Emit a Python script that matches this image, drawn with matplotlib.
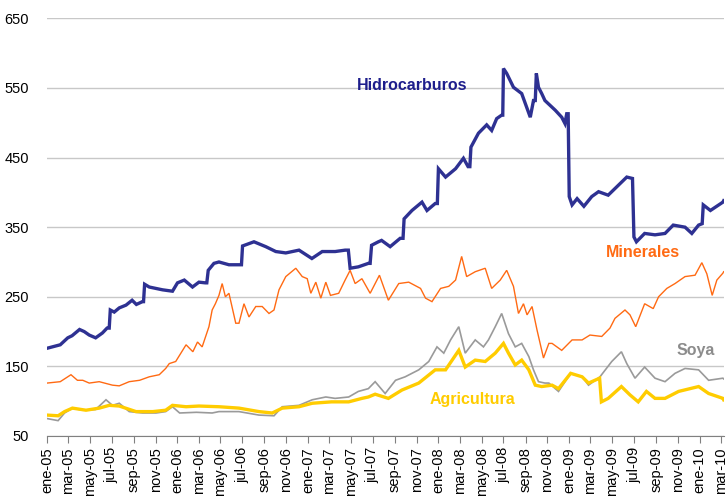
import pandas as pd
import numpy as np
import matplotlib.pyplot as plt
import matplotlib.dates as mdates
from matplotlib.ticker import FuncFormatter

plt.rcParams['font.family'] = ['Liberation Sans', 'DejaVu Sans']

# ==== datos (índices, valores aproximados) ====
hidro_fechas = [
    "2005-01-01", "2005-02-07", "2005-02-28", "2005-03-12", "2005-04-02", "2005-04-15", "2005-04-29",
    "2005-05-17", "2005-06-05", "2005-06-18", "2005-06-24", "2005-06-27", "2005-07-08", "2005-07-22",
    "2005-08-10", "2005-08-27", "2005-09-08", "2005-09-25", "2005-09-28", "2005-10-01", "2005-10-14",
    "2005-11-20", "2005-12-18", "2006-01-01", "2006-01-20", "2006-02-12", "2006-03-02", "2006-03-20",
    "2006-03-24", "2006-03-28", "2006-04-13", "2006-04-27", "2006-05-25", "2006-06-22", "2006-06-29",
    "2006-07-02", "2006-08-03", "2006-09-05", "2006-10-03", "2006-10-31", "2006-12-07", "2007-01-12",
    "2007-02-10", "2007-03-18", "2007-04-15", "2007-04-24", "2007-04-29", "2007-05-22", "2007-06-19",
    "2007-06-24", "2007-06-28", "2007-07-17", "2007-07-26", "2007-08-19", "2007-09-16", "2007-09-24",
    "2007-09-27", "2007-10-19", "2007-11-16", "2007-11-30", "2007-12-23", "2007-12-29", "2008-01-01",
    "2008-01-21", "2008-02-18", "2008-03-11", "2008-03-24", "2008-03-29", "2008-04-01", "2008-04-22",
    "2008-05-15", "2008-05-29", "2008-06-12", "2008-06-26", "2008-06-29", "2008-07-01", "2008-07-10",
    "2008-07-29", "2008-08-21", "2008-09-14", "2008-09-23", "2008-09-28", "2008-10-01", "2008-10-07",
    "2008-10-16", "2008-10-25", "2008-11-23", "2008-12-11", "2008-12-20", "2008-12-25", "2008-12-29",
    "2009-01-01", "2009-01-09", "2009-01-23", "2009-02-11", "2009-03-05", "2009-03-24", "2009-04-20",
    "2009-05-18", "2009-06-11", "2009-06-27", "2009-07-01", "2009-07-08", "2009-07-31", "2009-08-29",
    "2009-09-26", "2009-10-19", "2009-11-21", "2009-12-10", "2009-12-29", "2010-01-08", "2010-01-11",
    "2010-01-31", "2010-03-07", "2010-03-09"]
hidro_valores = [
    176, 181, 191, 194, 203, 200, 195,
    191, 198, 205, 205, 231, 228, 234,
    238, 245, 239, 243, 243, 268, 264,
    260, 258, 270, 274, 264, 271, 270,
    270, 288, 298, 300, 296, 296, 296,
    323, 329, 322, 315, 313, 317, 305,
    315, 315, 317, 317, 291, 293, 298,
    298, 324, 329, 331, 322, 334, 334,
    362, 374, 386, 374, 384, 384, 434,
    422, 434, 449, 437, 437, 465, 485,
    497, 489, 506, 511, 511, 578, 571,
    551, 542, 508, 532, 532, 571, 551,
    542, 532, 518, 508, 499, 513, 513,
    394, 382, 391, 380, 394, 401, 396,
    410, 422, 420, 336, 329, 341, 339,
    341, 353, 350, 341, 353, 355, 382,
    374, 386, 388]

min_fechas = [
    "2005-01-01", "2005-02-07", "2005-03-09", "2005-03-27", "2005-04-11", "2005-04-29", "2005-05-27",
    "2005-07-03", "2005-07-22", "2005-08-19", "2005-09-17", "2005-10-14", "2005-11-11", "2005-11-29",
    "2005-12-09", "2005-12-27", "2006-01-25", "2006-02-13", "2006-02-26", "2006-03-11", "2006-03-30",
    "2006-04-08", "2006-04-17", "2006-04-27", "2006-05-06", "2006-05-15", "2006-05-25", "2006-06-13",
    "2006-06-22", "2006-07-06", "2006-07-20", "2006-08-08", "2006-08-26", "2006-09-14", "2006-09-28",
    "2006-10-12", "2006-10-31", "2006-11-28", "2006-12-16", "2006-12-30", "2007-01-09", "2007-01-23",
    "2007-02-06", "2007-02-20", "2007-03-05", "2007-03-28", "2007-04-15", "2007-04-29", "2007-05-13",
    "2007-06-01", "2007-06-24", "2007-07-20", "2007-08-14", "2007-09-12", "2007-10-10", "2007-11-12",
    "2007-11-26", "2007-12-14", "2008-01-07", "2008-01-30", "2008-02-18", "2008-03-06", "2008-03-20",
    "2008-04-13", "2008-05-11", "2008-05-29", "2008-06-22", "2008-07-10", "2008-07-29", "2008-08-12",
    "2008-08-26", "2008-09-05", "2008-09-19", "2008-10-03", "2008-10-21", "2008-11-05", "2008-11-14",
    "2008-12-11", "2009-01-09", "2009-02-06", "2009-02-28", "2009-04-02", "2009-04-25", "2009-05-09",
    "2009-06-06", "2009-06-20", "2009-07-06", "2009-07-31", "2009-08-24", "2009-09-08", "2009-10-01",
    "2009-10-24", "2009-11-21", "2009-12-19", "2010-01-07", "2010-01-21", "2010-02-05", "2010-02-18",
    "2010-03-07", "2010-03-09"]
min_valores = [
    126, 128, 138, 130, 130, 126, 128,
    123, 122, 128, 130, 135, 138, 147,
    154, 157, 181, 171, 185, 178, 207,
    231, 240, 252, 269, 250, 255, 212,
    212, 240, 221, 236, 236, 226, 231,
    260, 279, 291, 279, 276, 255, 271,
    248, 271, 252, 255, 274, 288, 269,
    276, 255, 281, 245, 269, 271, 262,
    248, 243, 262, 265, 274, 308, 279,
    286, 291, 262, 274, 288, 265, 226,
    240, 224, 236, 202, 162, 183, 183,
    173, 188, 188, 195, 193, 205, 219,
    231, 224, 207, 240, 233, 250, 262,
    269, 279, 281, 299, 283, 252, 274,
    284, 286]

soya_fechas = [
    "2005-01-01", "2005-02-01", "2005-02-19", "2005-03-13", "2005-04-11", "2005-05-17", "2005-06-15",
    "2005-07-03", "2005-07-22", "2005-08-19", "2005-09-25", "2005-11-02", "2005-11-29", "2005-12-18",
    "2006-01-07", "2006-02-23", "2006-04-08", "2006-04-27", "2006-06-22", "2006-08-17", "2006-09-28",
    "2006-10-21", "2006-12-07", "2007-01-13", "2007-02-20", "2007-03-18", "2007-04-25", "2007-05-22",
    "2007-06-19", "2007-07-08", "2007-08-05", "2007-09-03", "2007-09-30", "2007-11-07", "2007-12-05",
    "2007-12-28", "2008-01-16", "2008-02-04", "2008-02-27", "2008-03-16", "2008-04-13", "2008-05-06",
    "2008-05-20", "2008-06-08", "2008-06-26", "2008-07-15", "2008-08-03", "2008-08-21", "2008-09-10",
    "2008-09-23", "2008-10-07", "2008-10-25", "2008-11-05", "2008-12-02", "2009-01-05", "2009-02-06",
    "2009-02-24", "2009-03-28", "2009-04-30", "2009-05-27", "2009-06-11", "2009-07-04", "2009-07-31",
    "2009-08-29", "2009-09-26", "2009-10-24", "2009-11-21", "2009-12-29", "2010-01-26", "2010-03-07",
    "2010-03-09"]
soya_valores = [
    75, 72, 83, 90, 87, 88, 102,
    94, 97, 85, 83, 83, 85, 92,
    83, 84, 83, 85, 85, 80, 79,
    92, 94, 102, 106, 104, 106, 114,
    118, 128, 111, 130, 135, 145, 157,
    178, 169, 188, 207, 169, 188, 178,
    188, 207, 226, 197, 178, 183, 164,
    145, 128, 126, 126, 114, 140, 135,
    123, 135, 157, 171, 154, 133, 149,
    133, 128, 140, 147, 145, 130, 133,
    132]

agri_fechas = [
    "2005-01-01", "2005-02-01", "2005-02-19", "2005-03-13", "2005-04-20", "2005-05-27", "2005-06-24",
    "2005-07-22", "2005-09-07", "2005-10-24", "2005-11-29", "2005-12-18", "2006-01-25", "2006-03-02",
    "2006-04-27", "2006-06-22", "2006-08-17", "2006-09-23", "2006-10-21", "2006-12-07", "2007-01-13",
    "2007-03-08", "2007-04-25", "2007-06-01", "2007-06-19", "2007-07-08", "2007-08-14", "2007-09-21",
    "2007-11-07", "2007-12-23", "2008-01-21", "2008-02-27", "2008-03-16", "2008-04-13", "2008-05-11",
    "2008-06-08", "2008-07-01", "2008-07-15", "2008-08-03", "2008-08-21", "2008-09-10", "2008-09-28",
    "2008-10-16", "2008-11-14", "2008-12-02", "2009-01-05", "2009-02-06", "2009-02-24", "2009-03-27",
    "2009-04-01", "2009-04-20", "2009-05-27", "2009-06-20", "2009-07-13", "2009-08-05", "2009-08-29",
    "2009-09-26", "2009-11-03", "2009-12-29", "2010-01-26", "2010-03-07", "2010-03-09"]
agri_valores = [
    80, 79, 85, 90, 87, 90, 94,
    93, 85, 85, 87, 94, 92, 93,
    92, 90, 85, 83, 90, 92, 97,
    99, 99, 104, 106, 110, 104, 116,
    126, 145, 145, 173, 149, 159, 157,
    169, 183, 169, 152, 159, 145, 123,
    121, 123, 118, 140, 135, 126, 133,
    99, 104, 121, 109, 99, 114, 104,
    104, 114, 121, 111, 104, 102]

meses = ["ene", "feb", "mar", "abr", "may", "jun", "jul", "ago", "sep", "oct", "nov", "dic"]

series = [
    (hidro_fechas, hidro_valores, "#2E3192", 2.4),
    (min_fechas, min_valores, "#FF6A13", 1.0),
    (soya_fechas, soya_valores, "#9A9A9A", 1.2),
    (agri_fechas, agri_valores, "#FFCC00", 2.4),
]

fig = plt.figure(figsize=(7.28, 5.04), dpi=100)
ax = fig.add_axes([0.0646, 0.135, 0.9299, 0.8285])

for fechas, valores, color, lw in series:
    ax.plot(pd.to_datetime(fechas), valores, color=color, lw=lw, solid_joinstyle='miter')

ax.set_ylim(50, 650)
ax.set_yticks(np.arange(50, 651, 100))
ax.set_xlim(pd.Timestamp("2005-01-01"), pd.Timestamp("2010-03-10"))
ax.xaxis.set_major_locator(mdates.MonthLocator(bymonth=[1, 3, 5, 7, 9, 11]))
ax.xaxis.set_major_formatter(FuncFormatter(
    lambda v, pos: f"{meses[mdates.num2date(v).month - 1]}-{mdates.num2date(v).year % 100:02d}"))

ax.grid(axis='y', color='#C8C8C8', lw=1.0)
ax.set_axisbelow(True)
for s in ['top', 'right', 'left']:
    ax.spines[s].set_visible(False)
ax.spines['bottom'].set_color('#808080')
ax.tick_params(axis='y', length=0, labelsize=10.5, pad=13)
ax.tick_params(axis='x', length=5, color='#808080', labelsize=10.5, labelrotation=90, pad=3)

etiqueta = dict(fontsize=11.5, fontweight='bold', ha='center', va='center')
ax.text(pd.Timestamp("2007-10-20"), 554, "Hidrocarburos", color="#1E1E8C", **etiqueta)
ax.text(pd.Timestamp("2009-07-25"), 313, "Minerales", color="#FF6A13", **etiqueta)
ax.text(pd.Timestamp("2009-12-20"), 173, "Soya", color="#8C8C8C", **etiqueta)
ax.text(pd.Timestamp("2008-04-05"), 102, "Agricultura", color="#FFCC00", **etiqueta)

fig.savefig("out.png", dpi=100)
